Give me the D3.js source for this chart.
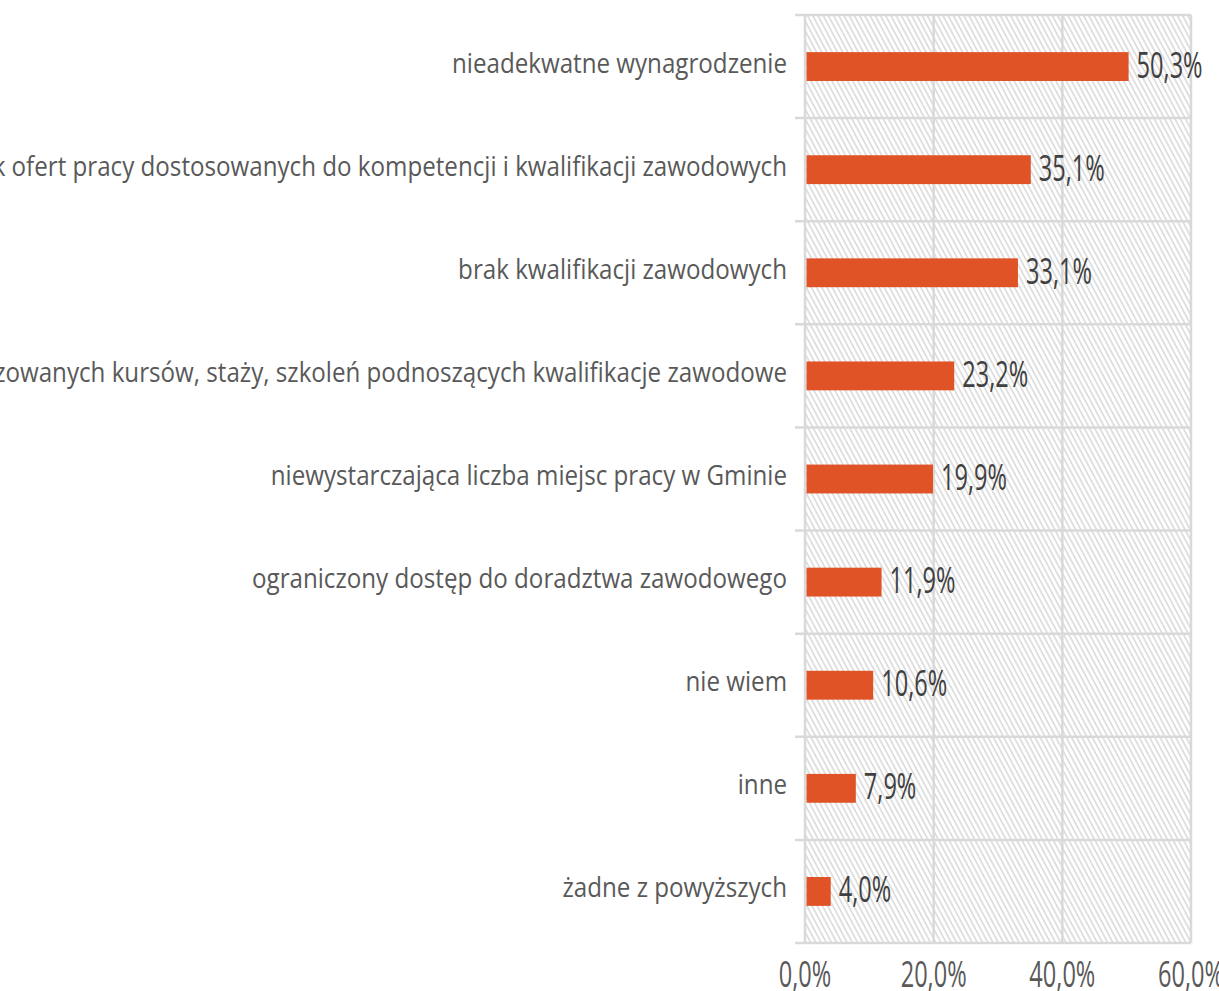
<!DOCTYPE html>
<html>
<head>
<meta charset="utf-8">
<script src="https://cdn.jsdelivr.net/npm/d3@7"></script>
<style>
  body { margin: 0; background: #fff; }
  svg { display: block; }
</style>
</head>
<body>
<div id="chart"></div>
<script>
// data
var categories = [
    "nieadekwatne wynagrodzenie",
    "brak ofert pracy dostosowanych do kompetencji i kwalifikacji zawodowych",
    "brak kwalifikacji zawodowych",
    "brak organizowanych kursów, staży, szkoleń podnoszących kwalifikacje zawodowe",
    "niewystarczająca liczba miejsc pracy w Gminie",
    "ograniczony dostęp do doradztwa zawodowego",
    "nie wiem",
    "inne",
    "żadne z powyższych"
];
var values = [50.3, 35.1, 33.1, 23.2, 19.9, 11.9, 10.6, 7.9, 4.0];
var xTicks = [0, 20, 40, 60];

var W = 1219, H = 991;
var margin = {top: 15, right: 28, bottom: 48, left: 805};
var width = W - margin.left - margin.right,
    height = H - margin.top - margin.bottom;

var fmt = function(v) { return v.toFixed(1).replace(".", ",") + "%"; };

var svg = d3.select("#chart").append("svg")
    .attr("width", W)
    .attr("height", H);

var defs = svg.append("defs");
defs.append("pattern")
    .attr("id", "hatch")
    .attr("patternUnits", "userSpaceOnUse")
    .attr("width", 4.6)
    .attr("height", 10)
    .attr("patternTransform", "rotate(-28)")
    .append("line")
    .attr("x1", 2).attr("y1", 0)
    .attr("x2", 2).attr("y2", 10)
    .attr("stroke", "#d4d4d4")
    .attr("stroke-width", 1.4);

var g = svg.append("g")
    .attr("transform", "translate(" + margin.left + "," + margin.top + ")");

var x = d3.scaleLinear().domain([0, 60]).range([0, width]);
var y = d3.scaleBand().domain(categories).range([0, height])
    .paddingInner(0.72).paddingOuter(0.36);

// hatched plot background
g.append("rect")
    .attr("width", width).attr("height", height)
    .attr("fill", "url(#hatch)");

var gridColor = "#d9d9d9";

// horizontal separators (with outer ticks on the left)
var bounds = d3.range(categories.length + 1).map(function(i) { return i * y.step(); });
g.selectAll(".hgrid").data(bounds).enter().append("line")
    .attr("class", "hgrid")
    .attr("x1", -10).attr("x2", width)
    .attr("y1", function(d) { return d; })
    .attr("y2", function(d) { return d; })
    .attr("stroke", gridColor).attr("stroke-width", 2.5);

// vertical gridlines
g.selectAll(".vgrid").data(xTicks).enter().append("line")
    .attr("class", "vgrid")
    .attr("x1", function(d) { return x(d); })
    .attr("x2", function(d) { return x(d); })
    .attr("y1", 0).attr("y2", height)
    .attr("stroke", gridColor).attr("stroke-width", 2.5);

// bars
g.selectAll(".bar").data(values).enter().append("rect")
    .attr("class", "bar")
    .attr("x", x(0) + 1.5)
    .attr("y", function(d, i) { return y(categories[i]); })
    .attr("width", function(d) { return x(d) - x(0) - 1.5; })
    .attr("height", y.bandwidth())
    .attr("fill", "#e05327");

// squeeze text horizontally like the original
function squeeze(sel, factor) {
    sel.each(function() {
        var n = this.getComputedTextLength();
        d3.select(this).attr("textLength", n * factor).attr("lengthAdjust", "spacingAndGlyphs");
    });
}

// category labels
var catLabels = g.selectAll(".cat").data(categories).enter().append("text")
    .attr("class", "cat")
    .attr("x", -18)
    .attr("y", function(d) { return y(d) + y.bandwidth() / 2 + 6; })
    .attr("text-anchor", "end")
    .attr("font-family", "Open Sans")
    .attr("font-size", 28)
    .attr("fill", "#595959")
    .text(function(d) { return d; });
var catRef = catLabels.node().getComputedTextLength();
squeeze(catLabels, 335 / catRef);

// value labels
var valLabels = g.selectAll(".val").data(values).enter().append("text")
    .attr("class", "val")
    .attr("x", function(d) { return x(d) + 8; })
    .attr("y", function(d, i) { return y(categories[i]) + y.bandwidth() / 2 + 11; })
    .attr("font-family", "Open Sans")
    .attr("font-size", 36)
    .attr("fill", "#404040")
    .text(fmt);
var valRef = valLabels.node().getComputedTextLength();
squeeze(valLabels, 66 / valRef);

// x axis labels
var axLabels = g.selectAll(".xt").data(xTicks).enter().append("text")
    .attr("class", "xt")
    .attr("x", function(d) { return x(d); })
    .attr("y", height + 44)
    .attr("text-anchor", "middle")
    .attr("font-family", "Open Sans")
    .attr("font-size", 36)
    .attr("fill", "#595959")
    .text(fmt);
squeeze(axLabels, 66 / valRef);
</script>
</body>
</html>
